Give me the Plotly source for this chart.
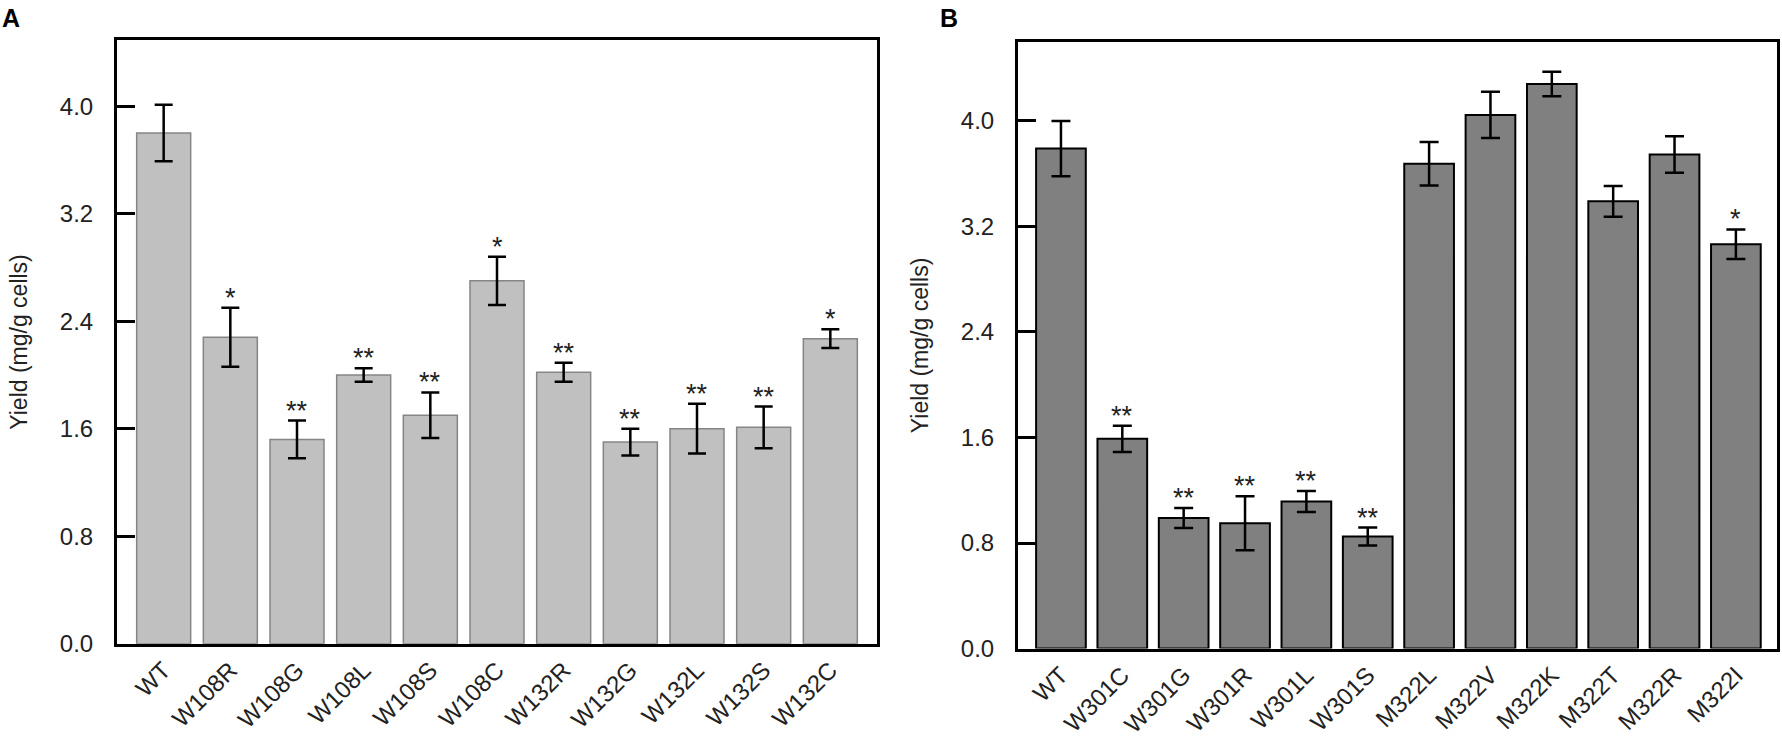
import plotly.graph_objects as go

# Panel A data
cats_a = ['WT', 'W108R', 'W108G', 'W108L', 'W108S', 'W108C',
          'W132R', 'W132G', 'W132L', 'W132S', 'W132C']
yield_a = [3.80, 2.28, 1.52, 2.00, 1.70, 2.70, 2.02, 1.50, 1.60, 1.61, 2.27]
err_a = [0.21, 0.22, 0.14, 0.05, 0.17, 0.18, 0.07, 0.10, 0.185, 0.155, 0.07]
sig_a = ['', '*', '**', '**', '**', '*', '**', '**', '**', '**', '*']

# Panel B data
cats_b = ['WT', 'W301C', 'W301G', 'W301R', 'W301L', 'W301S',
          'M322L', 'M322V', 'M322K', 'M322T', 'M322R', 'M322I']
yield_b = [3.79, 1.59, 0.99, 0.95, 1.115, 0.85, 3.675, 4.045, 4.28, 3.39, 3.745, 3.065]
err_b = [0.21, 0.10, 0.075, 0.205, 0.08, 0.068, 0.165, 0.175, 0.093, 0.117, 0.138, 0.112]
sig_b = ['', '**', '**', '**', '**', '**', '', '', '', '', '', '*']

FONT = 'Arial, Liberation Sans, sans-serif'

fig = go.Figure()

fig.add_trace(go.Bar(
    x=cats_a, y=yield_a, xaxis='x', yaxis='y',
    marker=dict(color='#c0c0c0', line=dict(color='#858585', width=1.5)),
    error_y=dict(type='data', array=err_a, color='black', thickness=2.5, width=9),
    showlegend=False))

fig.add_trace(go.Bar(
    x=cats_b, y=yield_b, xaxis='x2', yaxis='y2',
    marker=dict(color='#808080', line=dict(color='black', width=2)),
    error_y=dict(type='data', array=err_b, color='black', thickness=2.5, width=9.5),
    showlegend=False))

# significance stars above error bars
annotations = []
for c, v, e, s in zip(cats_a, yield_a, err_a, sig_a):
    if s:
        annotations.append(dict(x=c, y=v + e, xref='x', yref='y', text=s,
                                showarrow=False, yanchor='bottom', yshift=-7,
                                font=dict(family=FONT, size=27, color='#222222')))
for c, v, e, s in zip(cats_b, yield_b, err_b, sig_b):
    if s:
        annotations.append(dict(x=c, y=v + e, xref='x2', yref='y2', text=s,
                                showarrow=False, yanchor='bottom', yshift=-7,
                                font=dict(family=FONT, size=27, color='#222222')))

# panel letters
annotations.append(dict(x=0.0, y=1.0, xref='paper', yref='paper', text='<b>A</b>',
                        showarrow=False, xanchor='left', yanchor='top', yshift=-2,
                        font=dict(family=FONT, size=25, color='black')))
annotations.append(dict(x=938 / 1782, y=1.0, xref='paper', yref='paper', text='<b>B</b>',
                        showarrow=False, xanchor='left', yanchor='top', yshift=-2,
                        font=dict(family=FONT, size=25, color='black')))

yticks = [0.0, 0.8, 1.6, 2.4, 3.2, 4.0]
ytick_text = ['0.0', '0.8', '1.6', '2.4', '3.2', '4.0']

yaxis_common = dict(
    tickvals=yticks, ticktext=ytick_text, ticks='inside', ticklen=18, tickwidth=3,
    tickcolor='black', showline=True, linecolor='black', linewidth=3, mirror=True,
    showgrid=False, zeroline=False, ticklabelstandoff=16,
    tickfont=dict(family=FONT, size=24, color='#222222'),
    title=dict(text='Yield (mg/g cells)', font=dict(family=FONT, size=23, color='#222222'),
               standoff=26),
)
xaxis_common = dict(
    showline=True, linecolor='black', linewidth=3, mirror=True, showgrid=False,
    ticks='', tickangle=-45, tickfont=dict(family=FONT, size=24, color='#222222'),
)

fig.update_layout(
    width=1782, height=754,
    margin=dict(l=0, r=0, t=0, b=0),
    plot_bgcolor='white', paper_bgcolor='white',
    bargap=0.19,
    xaxis=dict(domain=[117 / 1782, 877 / 1782], range=[-0.7, 10.7], anchor='y', **xaxis_common),
    yaxis=dict(domain=[1 - 655 / 754, 1 - 41 / 754], range=[0, 4.49], anchor='x', **yaxis_common),
    xaxis2=dict(domain=[1018 / 1782, 1777 / 1782], range=[-0.7, 11.67], anchor='y2', **xaxis_common),
    yaxis2=dict(domain=[1 - 660 / 754, 1 - 43 / 754], range=[0, 4.596], anchor='x2', **yaxis_common),
    annotations=annotations,
)

# drop the default page margin so the figure fills the window
fig.write_html("out.html", config={'displayModeBar': False},
               post_script="document.body.style.margin='0';document.body.style.overflow='hidden';")
